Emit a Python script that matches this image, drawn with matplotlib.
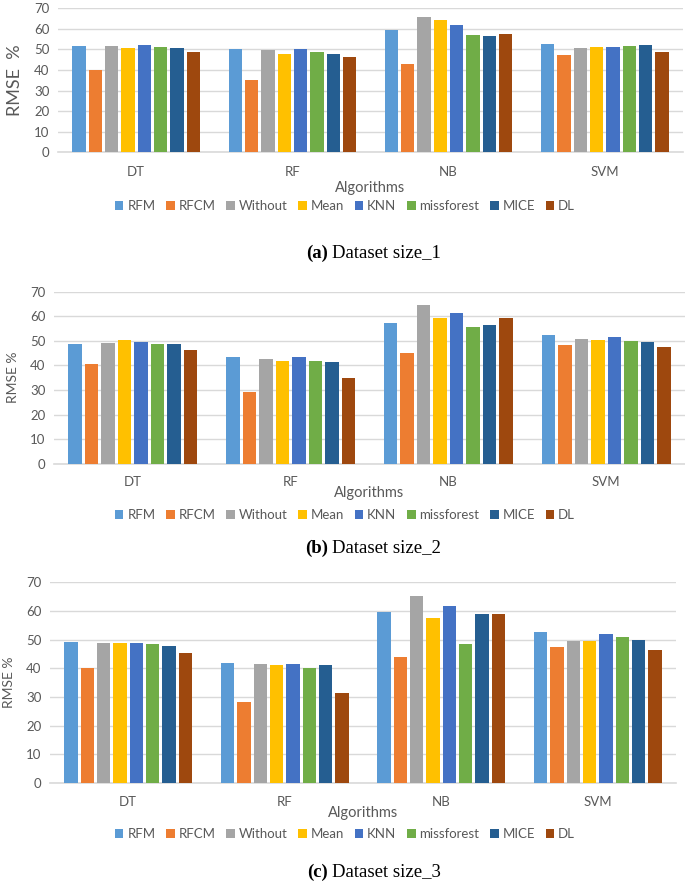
import numpy as np
from matplotlib import pyplot as plt

algorithms = ['DT', 'RF', 'NB', 'SVM']
methods = ['RFM', 'RFCM', 'Without', 'Mean', 'KNN', 'missforest', 'MICE', 'DL']
colors = ['#5B9BD5', '#ED7D31', '#A5A5A5', '#FFC000', '#4472C4', '#70AD47', '#255E91', '#9E480E']

# RMSE % per method, one value per algorithm (DT, RF, NB, SVM)
size_1 = {
    'RFM': [51.5, 50.2, 59.5, 52.7],
    'RFCM': [40.0, 35.3, 42.8, 47.3],
    'Without': [51.7, 49.8, 65.8, 50.7],
    'Mean': [50.5, 47.8, 64.5, 51.2],
    'KNN': [52.2, 50.3, 62.0, 51.3],
    'missforest': [51.0, 48.7, 57.0, 51.5],
    'MICE': [50.5, 48.0, 56.5, 52.2],
    'DL': [49.0, 46.5, 57.5, 48.8],
}
size_2 = {
    'RFM': [48.8, 43.5, 57.3, 52.3],
    'RFCM': [40.5, 29.0, 45.0, 48.2],
    'Without': [49.2, 42.5, 64.5, 50.7],
    'Mean': [50.2, 41.8, 59.4, 50.5],
    'KNN': [49.6, 43.5, 61.5, 51.4],
    'missforest': [48.8, 41.8, 55.8, 50.0],
    'MICE': [48.8, 41.2, 56.4, 49.6],
    'DL': [46.2, 34.8, 59.3, 47.6],
}
size_3 = {
    'RFM': [49.2, 41.8, 59.8, 52.6],
    'RFCM': [40.0, 28.2, 44.0, 47.6],
    'Without': [48.8, 41.4, 65.3, 49.6],
    'Mean': [48.8, 41.3, 57.6, 49.5],
    'KNN': [48.8, 41.6, 61.9, 52.0],
    'missforest': [48.5, 40.2, 48.5, 50.8],
    'MICE': [47.8, 41.3, 59.1, 49.8],
    'DL': [45.3, 31.4, 59.1, 46.3],
}
y_ticks = [0, 10, 20, 30, 40, 50, 60, 70]

W, H = 685, 883
SANS = ['Lato', 'DejaVu Sans']
SERIF = ['Liberation Serif', 'DejaVu Serif']
GREY = '#595959'


def fx(px):
    return px / W


def fy(py):
    return 1 - py / H


def draw_panel(fig, data, left, right, top, bottom, ylabel, ylabel_x, ylabel_size,
               cat_y, xlabel_y, legend_y, letter, caption, caption_y):
    ax = fig.add_axes([fx(left), fy(bottom), fx(right - left), (bottom - top) / H])
    x = np.arange(len(algorithms))
    step = 0.1045
    for i, m in enumerate(methods):
        ax.bar(x + (i - 3.5) * step, data[m], width=0.085, color=colors[i], label=m, zorder=3)

    ax.set_xlim(-0.5, len(algorithms) - 0.5)
    ax.set_ylim(0, 70)
    ax.set_yticks(y_ticks)
    ax.set_xticks(x)
    ax.set_xticklabels([])
    ax.grid(axis='y', color='#D9D9D9', linewidth=1.0, zorder=0)
    for s in ['top', 'right', 'left']:
        ax.spines[s].set_visible(False)
    ax.spines['bottom'].set_color('#D9D9D9')
    ax.spines['bottom'].set_linewidth(1.2)
    ax.tick_params(axis='both', length=0, colors=GREY, labelsize=9.5, pad=6)
    for lbl in ax.get_yticklabels():
        lbl.set_family(SANS)

    for i, name in enumerate(algorithms):
        fig.text(fx(left + (i + 0.5) * (right - left) / len(algorithms)), fy(cat_y), name,
                 ha='center', va='center', fontsize=9.5, color=GREY, family=SANS)

    fig.text(fx((left + right) / 2), fy(xlabel_y), 'Algorithms', ha='center', va='center',
             fontsize=10.5, color=GREY, family=SANS)
    fig.text(fx(ylabel_x), fy((top + bottom) / 2), ylabel, rotation=90, ha='center', va='center',
             fontsize=ylabel_size, color=GREY, family=SANS)

    fig.legend(*ax.get_legend_handles_labels(), loc='center', ncol=8,
               bbox_to_anchor=(fx(345), fy(legend_y)), frameon=False,
               prop={'family': SANS, 'size': 9.5}, labelcolor=GREY,
               handlelength=0.65, handleheight=0.65, handletextpad=0.3, columnspacing=0.8)

    fig.text(fx(328), fy(caption_y), letter, ha='right', va='center', fontsize=13.5,
             fontweight='bold', family=SERIF)
    fig.text(fx(332), fy(caption_y), caption, ha='left', va='center', fontsize=13.5, family=SERIF)
    return ax


fig = plt.figure(figsize=(W / 100, H / 100), dpi=100)

draw_panel(fig, size_1, 58, 683, 8.3, 152.3, 'RMSE  %', 15, 13,
           172, 188, 206, '(a)', 'Dataset size_1', 253)
draw_panel(fig, size_2, 54, 685, 291.7, 463.7, 'RMSE %', 13, 10,
           482, 493, 515, '(b)', 'Dataset size_2', 548)
draw_panel(fig, size_3, 50, 676, 582.3, 783, 'RMSE %', 9, 10,
           802, 813, 834, '(c)', 'Dataset size_3', 872)

plt.savefig('out.png', dpi=100)
